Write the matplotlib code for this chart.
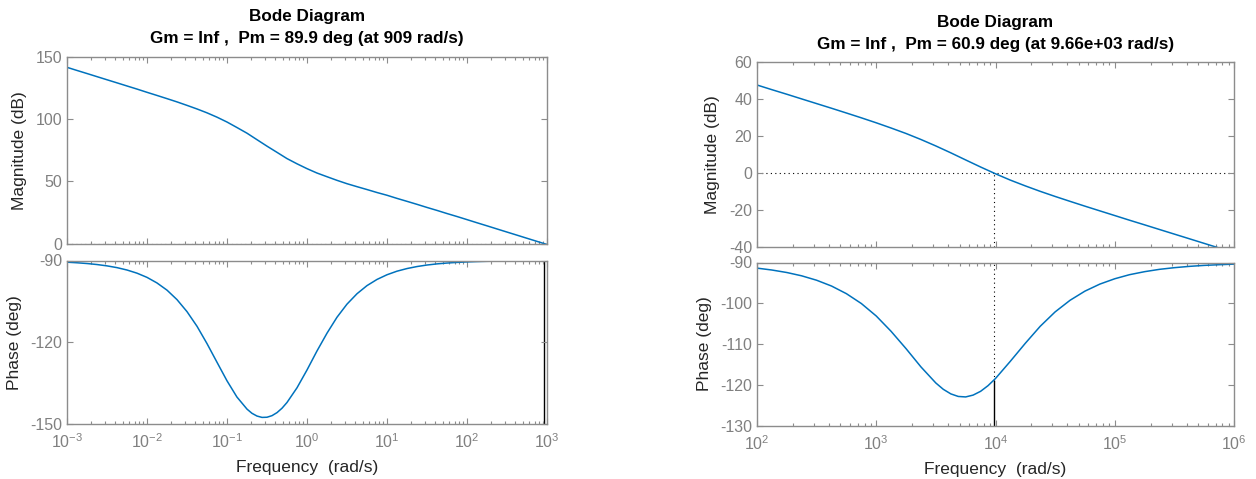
import numpy as np
import matplotlib
matplotlib.use("Agg")
import matplotlib.pyplot as plt
from matplotlib.ticker import LogLocator, NullFormatter, FixedLocator

plt.rcParams['font.family'] = ['Liberation Sans', 'DejaVu Sans']
plt.rcParams['mathtext.fontset'] = 'custom'
plt.rcParams['mathtext.rm'] = 'Liberation Sans'
plt.rcParams['mathtext.it'] = 'Liberation Sans:italic'
plt.rcParams['mathtext.bf'] = 'Liberation Sans:bold'
plt.rcParams['axes.unicode_minus'] = False

# ---- system 1: frequency response (rad/s, dB, deg) ----
w1_mag = [1.0e-3, 1.33e-3, 1.78e-3, 2.37e-3, 3.16e-3, 4.22e-3, 5.62e-3, 7.50e-3,
          1.0e-2, 1.33e-2, 1.78e-2, 2.37e-2, 3.16e-2, 4.22e-2, 5.62e-2, 7.50e-2,
          0.100, 0.133, 0.178, 0.237, 0.316, 0.422, 0.562, 0.750,
          1.00, 1.33, 1.78, 2.37, 3.16, 4.22, 5.62, 7.50,
          10.0, 13.3, 17.8, 23.7, 31.6, 42.2, 56.2, 75.0,
          100.0, 133.0, 178.0, 237.0, 316.0, 422.0, 562.0, 750.0,
          1000.0]
mag1 = [141.7, 139.2, 136.7, 134.2, 131.7, 129.2, 126.7, 124.2,
        121.6, 119.1, 116.5, 113.9, 111.1, 108.2, 105.1, 101.6,
        97.7, 93.3, 88.7, 83.5, 78.3, 73.3, 68.3, 64.1,
        60.2, 56.7, 53.7, 50.8, 48.1, 45.7, 43.4, 41.0,
        38.8, 36.3, 33.9, 31.5, 29.0, 26.6, 24.1, 21.7,
        19.2, 16.7, 14.2, 11.7, 9.2, 6.7, 4.2, 1.7,
        -0.8]
w1_ph = [1.0e-3, 1.33e-3, 1.78e-3, 2.37e-3, 3.16e-3, 4.22e-3, 5.62e-3, 7.50e-3,
         1.0e-2, 1.33e-2, 1.78e-2, 2.37e-2, 3.16e-2, 4.22e-2, 5.62e-2, 7.50e-2,
         0.100, 0.133, 0.178, 0.205, 0.237, 0.274, 0.316, 0.365, 0.422, 0.487, 0.562, 0.750,
         1.00, 1.33, 1.78, 2.37, 3.16, 4.22, 5.62, 7.50,
         10.0, 13.3, 17.8, 23.7, 31.6, 42.2, 56.2, 75.0,
         100.0, 133.0, 178.0, 237.0, 316.0, 422.0, 562.0, 750.0,
         1000.0]
ph1 = [-90.62, -90.83, -91.11, -91.48, -91.97, -92.62, -93.49, -94.65,
       -96.19, -98.22, -100.89, -104.35, -108.75, -114.15, -120.48, -127.35,
       -134.15, -140.09, -144.55, -146.07, -147.08, -147.58, -147.52, -146.94,
       -145.82, -144.21, -142.11, -136.71,
       -130.18, -123.25, -116.65, -110.83, -106.02, -102.19, -99.22, -96.95,
       -95.23, -93.93, -92.95, -92.22, -91.66, -91.24, -90.93, -90.70,
       -90.52, -90.39, -90.29, -90.22, -90.17, -90.12, -90.09, -90.07,
       -90.05]
pm1 = 89.9
wc1 = 909.0
decades1 = [1e-3, 1e-2, 1e-1, 1e0, 1e1, 1e2, 1e3]

# ---- system 2 ----
w2_mag = [1.0e2, 1.33e2, 1.78e2, 2.37e2, 3.16e2, 4.22e2, 5.62e2, 7.50e2,
          1.0e3, 1.33e3, 1.78e3, 2.37e3, 3.16e3, 4.22e3, 5.62e3, 7.50e3,
          1.0e4, 1.33e4, 1.78e4, 2.37e4, 3.16e4, 4.22e4, 5.62e4, 7.50e4,
          1.0e5, 1.33e5, 1.78e5, 2.37e5, 3.16e5, 4.22e5, 5.62e5, 7.50e5,
          1.0e6]
mag2 = [47.57, 45.06, 42.56, 40.04, 37.52, 34.99, 32.43, 29.82,
        27.13, 24.33, 21.34, 18.11, 14.62, 10.90, 7.06, 3.24,
        -0.42, -3.83, -6.98, -9.91, -12.67, -15.33, -17.92, -20.47,
        -23.00, -25.52, -28.03, -30.53, -33.03, -35.54, -38.04, -40.54,
        -43.04]
w2_ph = [1.0e2, 1.33e2, 1.78e2, 2.37e2, 3.16e2, 4.22e2, 5.62e2, 7.50e2,
         1.0e3, 1.33e3, 1.78e3, 2.37e3, 3.16e3, 3.65e3, 4.22e3, 4.87e3,
         5.62e3, 6.49e3, 7.50e3, 8.66e3,
         1.0e4, 1.33e4, 1.78e4, 2.37e4, 3.16e4, 4.22e4, 5.62e4, 7.50e4,
         1.0e5, 1.33e5, 1.78e5, 2.37e5, 3.16e5, 4.22e5, 5.62e5, 7.50e5,
         1.0e6]
ph2 = [-91.38, -91.84, -92.46, -93.27, -94.35, -95.78, -97.65, -100.07,
       -103.13, -106.87, -111.16, -115.62, -119.57, -121.12, -122.24, -122.87,
       -122.99, -122.54, -121.61, -120.22,
       -118.46, -114.26, -109.81, -105.66, -102.13, -99.27, -97.03, -95.30,
       -93.99, -92.99, -92.25, -91.68, -91.27, -90.95, -90.71, -90.54,
       -90.40]
pm2 = 60.9
wc2 = 9660.0
decades2 = [1e2, 1e3, 1e4, 1e5, 1e6]

titles = [("Bode Diagram", "Gm = Inf ,  Pm = 89.9 deg (at 909 rad/s)"),
          ("Bode Diagram", "Gm = Inf ,  Pm = 60.9 deg (at 9.66e+03 rad/s)")]

W, H = 1256, 479
blue = '#0072BD'
frame = '#8c8c8c'
tickc = '#808080'
labc = '#262626'

fig = plt.figure(figsize=(W / 100, H / 100), dpi=100)


def px_axes(x0, y0, x1, y1):
    return fig.add_axes([x0 / W, 1 - y1 / H, (x1 - x0) / W, (y1 - y0) / H])


def style(ax, xticks, ylim, yticks, labels_x):
    ax.set_xscale('log')
    ax.set_xlim(xticks[0], xticks[-1])
    ax.set_ylim(*ylim)
    ax.yaxis.set_major_locator(FixedLocator(yticks))
    ax.xaxis.set_major_locator(FixedLocator(xticks))
    ax.xaxis.set_minor_locator(LogLocator(base=10, subs=np.arange(2, 10), numticks=20))
    ax.xaxis.set_minor_formatter(NullFormatter())
    if not labels_x:
        ax.xaxis.set_major_formatter(NullFormatter())
    ax.tick_params(which='both', direction='in', top=True, right=True,
                   colors=frame, labelcolor=tickc, labelsize=11.5, width=0.8)
    ax.tick_params(which='major', length=4)
    ax.tick_params(which='minor', length=2.5)
    ax.tick_params(axis='x', pad=6)
    for s in ax.spines.values():
        s.set_color(frame)
        s.set_linewidth(1.0)


# axes boxes in pixels (x0, y0, x1, y1), y measured from the top
boxes = [
    ((67, 57, 547, 243.5), (67, 260.5, 547, 424)),
    ((757, 62, 1234, 247), (757, 262.5, 1234, 425.5)),
]
limits = [
    (decades1, (0, 150), [0, 50, 100, 150], (-150, -90), [-150, -120, -90]),
    (decades2, (-40, 60), [-40, -20, 0, 20, 40, 60], (-130, -90),
     [-130, -120, -110, -100, -90]),
]
systems = [
    (w1_mag, mag1, w1_ph, ph1, pm1, wc1),
    (w2_mag, mag2, w2_ph, ph2, pm2, wc2),
]
# x centre of each y label and title line heights, in pixels
ylabel_x = [(20, 15), (713, 705)]
title_y = [(17, 38), (22, 44)]

for (bm, bp), (xt, ml, mt, pl, pt), (wm, m, wp, p, pm, wc), title, (lxm, lxp), (ty1, ty2) in zip(
        boxes, limits, systems, titles, ylabel_x, title_y):
    axm = px_axes(*bm)
    axp = px_axes(*bp)
    style(axm, xt, ml, mt, False)
    style(axp, xt, pl, pt, True)

    axm.plot(wm, m, color=blue, lw=1.1)
    axp.plot(wp, p, color=blue, lw=1.1)

    # gain crossover / phase margin markers
    axm.axhline(0, color='black', ls=(0, (1, 3)), lw=0.8, zorder=1)
    axm.plot([wc, wc], [ml[0], 0], color='black', ls=(0, (1, 3)), lw=0.8, zorder=1)
    axp.plot([wc, wc], [-180 + pm, pl[1]], color='black', ls=(0, (1, 3)), lw=0.8, zorder=1)
    axp.plot([wc, wc], [-180, -180 + pm], color='black', lw=1.0, zorder=1)

    axm.set_ylabel('Magnitude (dB)', fontsize=12.5, color=labc, va='center')
    axp.set_ylabel('Phase (deg)', fontsize=12.5, color=labc, va='center')
    axm.yaxis.set_label_coords((lxm - bm[0]) / (bm[2] - bm[0]), 0.5)
    axp.yaxis.set_label_coords((lxp - bp[0]) / (bp[2] - bp[0]), 0.5)
    axp.set_xlabel('Frequency  (rad/s)', fontsize=12.5, color=labc, labelpad=6.5)

    xc = (bm[0] + bm[2]) / 2 / W
    fig.text(xc, 1 - ty1 / H, title[0], ha='center', va='center',
             fontsize=12.3, fontweight='bold', color='black')
    fig.text(xc, 1 - ty2 / H, title[1], ha='center', va='center',
             fontsize=12.3, fontweight='bold', color='black')

fig.savefig('out.png', dpi=100, facecolor='white')
